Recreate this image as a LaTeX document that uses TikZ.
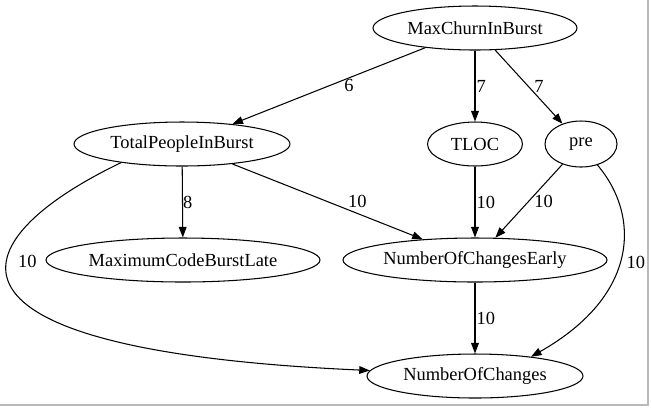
\documentclass[tikz,border=0pt]{standalone}
\usepackage{fontspec}
\setmainfont{Liberation Serif}
\usepackage{tikz}
\usetikzlibrary{arrows.meta, shapes.geometric}

\begin{document}
\begin{tikzpicture}[
    x=0.02cm, y=-0.02cm,
    every node/.style={font=\fontsize{10.5}{12}\selectfont},
    var/.style={draw, ellipse, inner sep=0pt, minimum height=0.88cm, line width=0.6pt},
    lbl/.style={inner sep=0pt, anchor=west},
    arr/.style={-{Triangle[length=6pt, width=4.4pt]}, line width=0.6pt}
]
\useasboundingbox (0,0) rectangle (651,407);
\draw[gray!55, line width=0.7pt] (648,0) -- (648,405) -- (0,405);

\node (mcib) [var, minimum width=4.08cm] at (475,28) {MaxChurnInBurst};
\node (tpib) [var, minimum width=4.32cm] at (182,144) {TotalPeopleInBurst};
\node (tloc) [var, minimum width=1.9cm] at (475,144) {TLOC};
\node (pre) [var, minimum width=1.44cm, minimum height=0.92cm] at (581,144) {pre};
\node (mcbl) [var, minimum width=5.48cm] at (183,260) {MaximumCodeBurstLate};
\node (noce) [var, minimum width=5.28cm] at (475,260) {NumberOfChangesEarly};
\node (noc) [var, minimum width=4.32cm] at (475,376) {NumberOfChanges};

\draw[arr] (mcib) -- node[lbl, xshift=0.3cm] (l1) {6} (tpib);
\draw[arr] (mcib) -- node[lbl, xshift=0.02cm] (l2) {7} (tloc);
\draw[arr] (mcib) -- node[lbl, xshift=0.1cm] (l3) {7} (pre);
\draw[arr] (tpib) -- node[lbl] (l4) {8} (mcbl);
\draw[arr] (tpib) -- node[lbl, xshift=0.4cm] (l5) {10} (noce);
\draw[arr] (tloc) -- node[lbl, xshift=0.02cm] (l6) {10} (noce);
\draw[arr] (pre) -- node[lbl, xshift=0.1cm] (l7) {10} (noce);
\draw[arr] (noce) -- node[lbl, xshift=0.02cm] (l8) {10} (noc);
\draw[arr] (tpib.197) .. controls (-40,240) and (-90,350) .. node[lbl, pos=0.4, xshift=0.22cm, yshift=0.04cm] (l9) {10} (noc.177);
\draw[arr] (pre.-52) .. controls (640,215) and (640,295) .. node[lbl, pos=0.5, xshift=0.1cm, yshift=-0.12cm] (l10) {10} (noc.19);
\end{tikzpicture}
\end{document}
